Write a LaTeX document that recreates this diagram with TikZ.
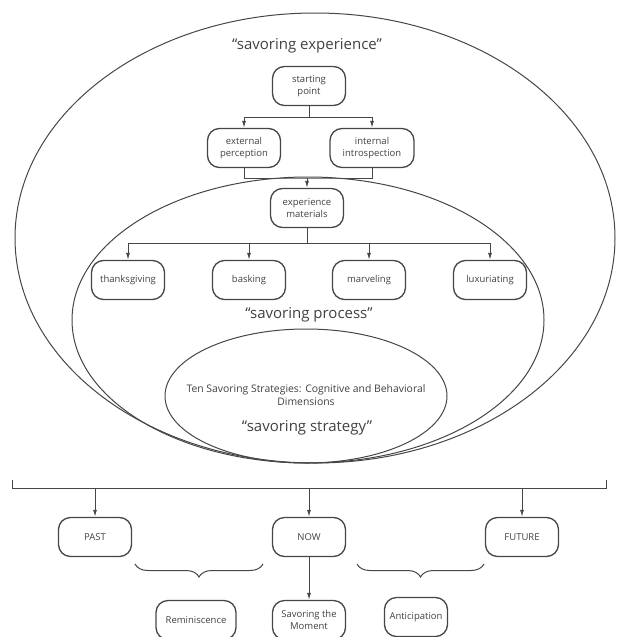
\documentclass[tikz,border=0pt]{standalone}
\usepackage{fontspec}
\setmainfont{Open Sans}
\usetikzlibrary{arrows.meta,decorations.pathreplacing}
\definecolor{linegray}{RGB}{70,70,70}
\definecolor{textgray}{RGB}{65,65,65}
\begin{document}
\begin{tikzpicture}[
  x=1pt, y=-1pt,
  color=linegray,
  line width=1pt,
  box/.style={draw, rounded corners=12pt, minimum width=73pt, minimum height=39pt,
    align=center, inner sep=2pt, line width=1.3pt, text=textgray,
    font=\fontsize{9.5}{11.5}\selectfont},
  title/.style={text=textgray, font=\fontsize{15}{17}\selectfont},
  arr/.style={-{Latex[length=7pt,width=4pt]}},
  curly/.style={decorate, decoration={brace, mirror, amplitude=13pt}}
]
\useasboundingbox (0,0) rectangle (617,637);

\draw (315,238) ellipse [x radius=300, y radius=225];
\draw (308,320) ellipse [x radius=236, y radius=143];
\draw (306,396) ellipse [x radius=141, y radius=67];

\node[title] (expr) at (307,46) {“savoring experience”};
\node[title] (proc) at (309,315) {“savoring process”};
\node[title] (strat) at (307,428) {“savoring strategy”};
\node[text=textgray, align=center, font=\fontsize{10.4}{13}\selectfont] (ten) at (306,395)
  {Ten Savoring Strategies: Cognitive and Behavioral\\Dimensions};

\node[box] (start) at (309,86) {starting\\point};
\node[box] (ext) at (244,148) {external\\perception};
\node[box, minimum width=84pt] (int) at (372,148) {internal\\introspection};
\node[box] (mat) at (307,208) {experience\\materials};
\node[box] (thanks) at (128,280) {thanksgiving};
\node[box] (bask) at (249,280) {basking};
\node[box] (marv) at (369,280) {marveling};
\node[box] (lux) at (490,280) {luxuriating};

\coordinate (s1) at (309,117);
\coordinate (j1) at (307,178);
\coordinate (s2) at (307,243);
\draw (start) -- (s1);
\draw[arr] (s1) -| (ext);
\draw[arr] (s1) -| (int);
\draw (ext.south) |- (j1) -| (int.south);
\draw[arr] (j1) -- (mat);
\draw (mat) -- (s2);
\foreach \n in {thanks,bask,marv,lux}
  \draw[arr] (s2) -| (\n);

\node[box] (past) at (95,537) {PAST};
\node[box] (now) at (309,537) {NOW};
\node[box] (future) at (522,537) {FUTURE};
\node[box, minimum width=80pt] (rem) at (196,620) {Reminiscence};
\node[box] (moment) at (309,620) {Savoring the\\Moment};
\node[box, minimum width=63pt] (antic) at (416,617) {Anticipation};

\coordinate (bl) at (12,480);
\coordinate (br) at (606,480);
\coordinate (bar) at (0,488);
\draw (bl) -- ++(0,8) -| (br);
\foreach \n in {past,now,future}
  \draw[arr] (\n |- bar) -- (\n);
\draw[arr] (now) -- (moment);

\draw[curly] (135,564) -- (263,564);
\draw[curly] (357,564) -- (484,564);
\end{tikzpicture}
\end{document}
